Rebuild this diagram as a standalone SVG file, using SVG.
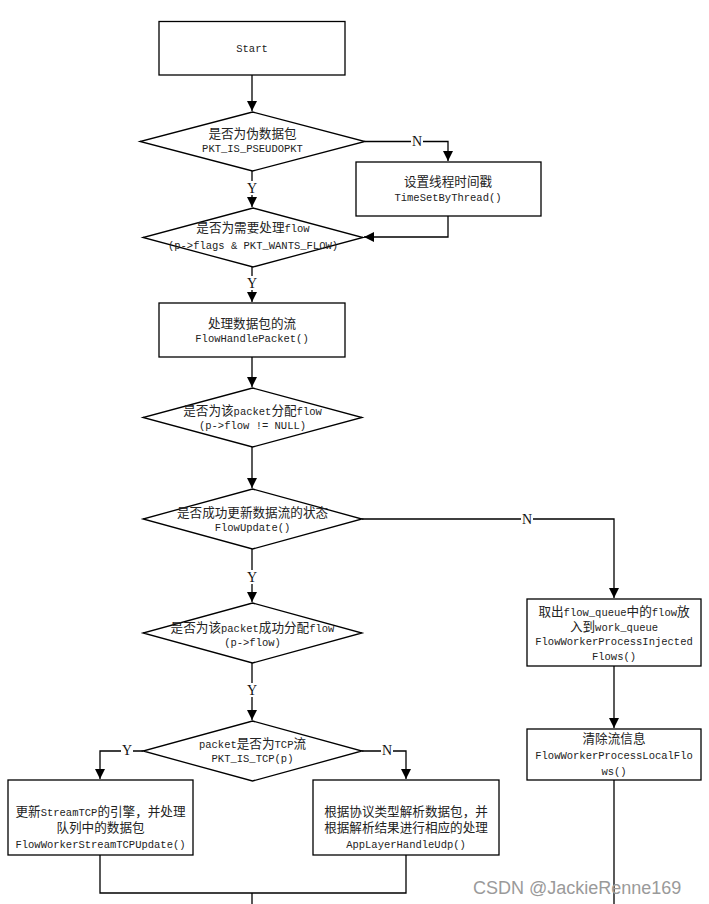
<svg xmlns="http://www.w3.org/2000/svg" width="709" height="904" viewBox="0 0 709 904">
<style>
.n{fill:#fff;stroke:#000;stroke-width:1.3}
.e{fill:none;stroke:#000;stroke-width:1.3}
.t{font-family:"Liberation Mono","Noto Sans CJK SC",monospace;font-size:10.5px;fill:#222;text-anchor:middle}
.c{font-family:"Noto Sans CJK SC",sans-serif;font-size:12.6px}
.lb{font-family:"Liberation Serif","Noto Serif",serif;font-size:14px;fill:#111;text-anchor:middle}
.wm{font-family:"Liberation Sans",Arial,sans-serif;font-size:18px;fill:#9a9a9a;text-anchor:start}
</style>
<defs>
<marker id="ah" viewBox="0 0 10 10" refX="10" refY="5" markerWidth="10" markerHeight="10" markerUnits="userSpaceOnUse" orient="auto">
<path d="M0,0 L10,5 L0,10 z" fill="#000"/>
</marker>
</defs>
<rect width="709" height="904" fill="#fff"/>

<g id="edges">
<path class="e" d="M252,75 V111" marker-end="url(#ah)"/>
<path class="e" d="M365,141.5 H448 V161" marker-end="url(#ah)"/>
<path class="e" d="M252,171 V207" marker-end="url(#ah)"/>
<path class="e" d="M448,216 V237 H364" marker-end="url(#ah)"/>
<path class="e" d="M252,267 V302" marker-end="url(#ah)"/>
<path class="e" d="M252,357 V387" marker-end="url(#ah)"/>
<path class="e" d="M252,447 V488" marker-end="url(#ah)"/>
<path class="e" d="M362,519 H614 V598" marker-end="url(#ah)"/>
<path class="e" d="M252,549 V602" marker-end="url(#ah)"/>
<path class="e" d="M252,663 V720" marker-end="url(#ah)"/>
<path class="e" d="M143,751 H100 V779" marker-end="url(#ah)"/>
<path class="e" d="M362,751 H406 V779" marker-end="url(#ah)"/>
<path class="e" d="M614,666 V728" marker-end="url(#ah)"/>
<path class="e" d="M614,780 V904"/>
<path class="e" d="M100,855 V893 H406 V855"/>
<path class="e" d="M252,893 V904"/>
<g>
<rect x="411" y="134" width="12" height="14" fill="#fff"/><text class="lb" x="417" y="146">N</text>
<rect x="246" y="181" width="12" height="14" fill="#fff"/><text class="lb" x="252" y="193">Y</text>
<rect x="246" y="276" width="12" height="14" fill="#fff"/><text class="lb" x="252" y="288">Y</text>
<rect x="521" y="512" width="12" height="14" fill="#fff"/><text class="lb" x="527" y="524">N</text>
<rect x="246" y="570" width="12" height="14" fill="#fff"/><text class="lb" x="252" y="582">Y</text>
<rect x="246" y="683" width="12" height="14" fill="#fff"/><text class="lb" x="252" y="695">Y</text>
<rect x="121" y="744" width="12" height="14" fill="#fff"/><text class="lb" x="127" y="755">Y</text>
<rect x="381" y="744" width="12" height="14" fill="#fff"/><text class="lb" x="387" y="755">N</text>
</g>
</g>

<g id="start">
<rect class="n" x="159" y="21.5" width="186" height="53.5"/>
<text class="t" x="252" y="51.5">Start</text>
</g>

<g id="d1">
<polygon class="n" points="252.5,112 365,141.5 252.5,171 140,141.5"/>
<text class="t" x="252.5" y="137.5"><tspan class="c">是否为伪数据包</tspan></text>
<text class="t" x="252.5" y="152">PKT_IS_PSEUDOPKT</text>
</g>

<g id="timeset">
<rect class="n" x="356" y="162" width="185" height="54"/>
<text class="t" x="448" y="185.5"><tspan class="c">设置线程时间戳</tspan></text>
<text class="t" x="448" y="201">TimeSetByThread()</text>
</g>

<g id="d2">
<polygon class="n" points="253,208 363,237.5 253,267 143,237.5"/>
<text class="t" x="253" y="232"><tspan class="c">是否为需要处理</tspan>flow</text>
<text class="t" x="253" y="248.5">(p-&gt;flags &amp; PKT_WANTS_FLOW)</text>
</g>

<g id="handle">
<rect class="n" x="159" y="303" width="186" height="54"/>
<text class="t" x="252" y="327.5"><tspan class="c">处理数据包的流</tspan></text>
<text class="t" x="252" y="342">FlowHandlePacket()</text>
</g>

<g id="d3">
<polygon class="n" points="252.5,388 362,417.5 252.5,447 143,417.5"/>
<text class="t" x="252.5" y="415"><tspan class="c">是否为该</tspan>packet<tspan class="c">分配</tspan>flow</text>
<text class="t" x="252.5" y="428.5">(p-&gt;flow != NULL)</text>
</g>

<g id="d4">
<polygon class="n" points="252.5,489 362,519 252.5,549 143,519"/>
<text class="t" x="252.5" y="517"><tspan class="c">是否成功更新数据流的状态</tspan></text>
<text class="t" x="252.5" y="530.5">FlowUpdate()</text>
</g>

<g id="d5">
<polygon class="n" points="252.5,603 362,633 252.5,663 143,633"/>
<text class="t" x="252.5" y="632"><tspan class="c">是否为该</tspan>packet<tspan class="c">成功分配</tspan>flow</text>
<text class="t" x="252.5" y="645.5">(p-&gt;flow)</text>
</g>

<g id="d6">
<polygon class="n" points="252.5,721 362,751 252.5,781 143,751"/>
<text class="t" x="252.5" y="747.5">packet<tspan class="c">是否为</tspan>TCP<tspan class="c">流</tspan></text>
<text class="t" x="252.5" y="761.5">PKT_IS_TCP(p)</text>
</g>

<g id="tcpupdate">
<rect class="n" x="8" y="780" width="185" height="75"/>
<text class="t" x="100.5" y="815.5"><tspan class="c">更新</tspan>StreamTCP<tspan class="c">的引擎，并处理</tspan></text>
<text class="t" x="100.5" y="831.5"><tspan class="c">队列中的数据包</tspan></text>
<text class="t" x="100.5" y="847.5">FlowWorkerStreamTCPUpdate()</text>
</g>

<g id="udp">
<rect class="n" x="313" y="780" width="186" height="75"/>
<text class="t" x="406" y="815.5"><tspan class="c">根据协议类型解析数据包，并</tspan></text>
<text class="t" x="406" y="831.5"><tspan class="c">根据解析结果进行相应的处理</tspan></text>
<text class="t" x="406" y="847.5">AppLayerHandleUdp()</text>
</g>

<g id="injected">
<rect class="n" x="527" y="599" width="174" height="67"/>
<text class="t" x="614" y="615.5"><tspan class="c">取出</tspan>flow_queue<tspan class="c">中的</tspan>flow<tspan class="c">放</tspan></text>
<text class="t" x="614" y="630.5"><tspan class="c">入到</tspan>work_queue</text>
<text class="t" x="614" y="645">FlowWorkerProcessInjected</text>
<text class="t" x="614" y="660">Flows()</text>
</g>

<g id="local">
<rect class="n" x="527" y="729" width="174" height="51"/>
<text class="t" x="614" y="743"><tspan class="c">清除流信息</tspan></text>
<text class="t" x="614" y="759">FlowWorkerProcessLocalFlo</text>
<text class="t" x="614" y="774.5">ws()</text>
</g>

<text class="wm" x="473" y="894">CSDN @JackieRenne169</text>
</svg>
